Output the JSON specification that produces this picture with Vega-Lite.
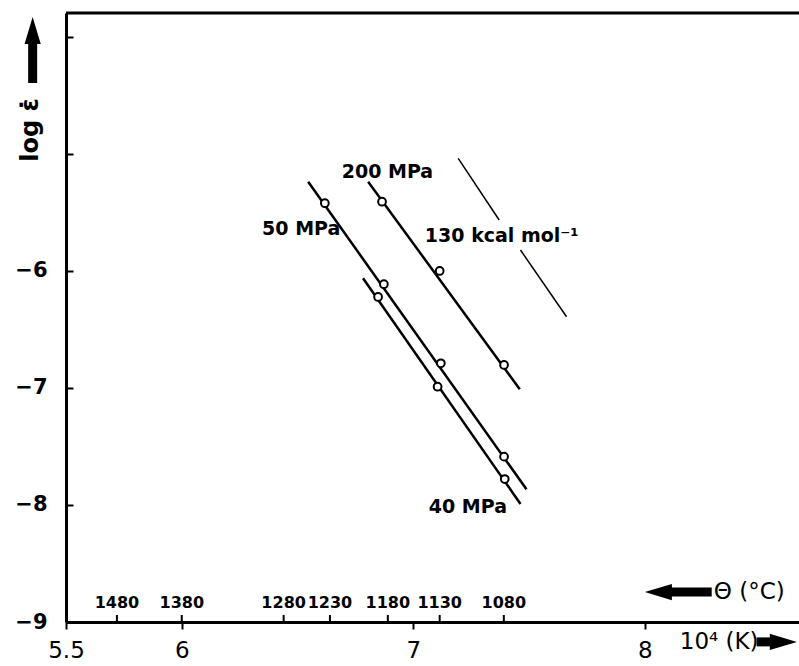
{
  "$schema": "https://vega.github.io/schema/vega-lite/v6.json",
  "width": 733,
  "height": 609,
  "autosize": "none",
  "padding": {"left": 66, "top": 13, "right": 0, "bottom": 44},
  "background": "white",
  "config": {"view": {"stroke": null}, "font": "DejaVu Sans"},
  "datasets": {
    "fits": [
      {"series": "200 MPa", "x": 6.805, "y": -5.237},
      {"series": "200 MPa", "x": 7.460, "y": -7.011},
      {"series": "50 MPa", "x": 6.546, "y": -5.237},
      {"series": "50 MPa", "x": 7.489, "y": -7.866},
      {"series": "40 MPa", "x": 6.783, "y": -6.062},
      {"series": "40 MPa", "x": 7.463, "y": -7.991}
    ],
    "slope": [
      {"part": "a", "x": 7.194, "y": -5.037},
      {"part": "a", "x": 7.371, "y": -5.564},
      {"part": "b", "x": 7.463, "y": -5.821},
      {"part": "b", "x": 7.662, "y": -6.391}
    ],
    "points": [
      {"series": "200 MPa", "x": 6.865, "y": -5.408},
      {"series": "200 MPa", "x": 7.114, "y": -6.0},
      {"series": "200 MPa", "x": 7.392, "y": -6.803},
      {"series": "50 MPa", "x": 6.618, "y": -5.421},
      {"series": "50 MPa", "x": 6.873, "y": -6.113},
      {"series": "50 MPa", "x": 7.119, "y": -6.789},
      {"series": "50 MPa", "x": 7.392, "y": -7.587},
      {"series": "40 MPa", "x": 6.848, "y": -6.222},
      {"series": "40 MPa", "x": 7.105, "y": -6.989},
      {"series": "40 MPa", "x": 7.395, "y": -7.778}
    ],
    "labels": [
      {"text": "200 MPa", "x": 6.691, "y": -5.150},
      {"text": "50 MPa", "x": 6.347, "y": -5.641},
      {"text": "130 kcal mol⁻¹", "x": 7.050, "y": -5.705},
      {"text": "40 MPa", "x": 7.067, "y": -8.013}
    ],
    "celsius": [
      {"t_c": "1480", "x": 5.72},
      {"t_c": "1380", "x": 6.0},
      {"t_c": "1280", "x": 6.44},
      {"t_c": "1230", "x": 6.64},
      {"t_c": "1180", "x": 6.89},
      {"t_c": "1130", "x": 7.114},
      {"t_c": "1080", "x": 7.391}
    ],
    "shafts": [
      {"arrow": "log", "x": 5.356, "y": -4.393, "x2": 5.356, "y2": -4.043},
      {"arrow": "theta", "x": 8.108, "y": -8.744, "x2": 8.289, "y2": -8.744},
      {"arrow": "kelvin", "x": 8.483, "y": -9.17, "x2": 8.548, "y2": -9.17}
    ],
    "heads": [
      {"dir": "up", "x": 5.356, "y": -3.983},
      {"dir": "left", "x": 8.078, "y": -8.744},
      {"dir": "right", "x": 8.579, "y": -9.17}
    ],
    "titles": [
      {"text": "Θ (°C)", "x": 8.298, "y": -8.744},
      {"text": "10⁴ (K)", "x": 8.151, "y": -9.17}
    ],
    "ytitle": [
      {"text": "log ε̇", "x": 5.348, "y": -4.795}
    ]
  },
  "layer": [
    {
      "data": {"name": "fits"},
      "mark": {"type": "line", "color": "black", "strokeWidth": 2.5},
      "encoding": {
        "x": {
          "field": "x", "type": "quantitative", "title": null,
          "scale": {"domain": [5.5, 8.666], "nice": false, "zero": false},
          "axis": {
            "values": [5.5, 6, 7, 8], "format": "~g", "title": null, "grid": false,
            "domainColor": "black", "domainWidth": 3,
            "tickColor": "black", "tickWidth": 2, "tickSize": 7,
            "labelFont": "DejaVu Sans", "labelFontSize": 23, "labelColor": "black",
            "labelPadding": 10, "labelFlush": false, "labelOverlap": false
          }
        },
        "y": {
          "field": "y", "type": "quantitative", "title": null,
          "scale": {"domain": [-9, -3.795], "nice": false, "zero": false},
          "axis": {
            "values": [-9, -8, -7, -6, -5, -4],
            "format": "~g",
            "labelExpr": "datum.value <= -5.5 ? datum.label : ''",
            "title": null, "grid": false,
            "domainColor": "black", "domainWidth": 3,
            "tickColor": "black", "tickWidth": 2, "tickSize": -7,
            "labelFont": "DejaVu Sans", "labelFontWeight": "bold", "labelFontSize": 21,
            "labelColor": "black", "labelPadding": 26
          }
        },
        "detail": {"field": "series", "type": "nominal"}
      }
    },
    {
      "data": {"name": "ytitle"},
      "mark": {"type": "rule", "color": "black", "strokeWidth": 3},
      "encoding": {"y": {"datum": -3.795, "type": "quantitative", "title": null}}
    },
    {
      "data": {"name": "slope"},
      "mark": {"type": "line", "color": "black", "strokeWidth": 1.5},
      "encoding": {
        "x": {"field": "x", "type": "quantitative", "title": null},
        "y": {"field": "y", "type": "quantitative", "title": null},
        "detail": {"field": "part", "type": "nominal"}
      }
    },
    {
      "data": {"name": "points"},
      "mark": {"type": "point", "shape": "circle", "filled": true, "fill": "white", "stroke": "black", "strokeWidth": 2, "size": 60, "opacity": 1},
      "encoding": {
        "x": {"field": "x", "type": "quantitative", "title": null},
        "y": {"field": "y", "type": "quantitative", "title": null}
      }
    },
    {
      "data": {"name": "labels"},
      "mark": {"type": "text", "align": "left", "baseline": "middle", "font": "DejaVu Sans", "fontWeight": "bold", "fontSize": 19, "color": "black"},
      "encoding": {
        "x": {"field": "x", "type": "quantitative", "title": null},
        "y": {"field": "y", "type": "quantitative", "title": null},
        "text": {"field": "text"}
      }
    },
    {
      "data": {"name": "celsius"},
      "mark": {"type": "rule", "color": "black", "strokeWidth": 2},
      "encoding": {
        "x": {"field": "x", "type": "quantitative", "title": null},
        "y": {"datum": -9, "type": "quantitative", "title": null},
        "y2": {"datum": -8.94}
      }
    },
    {
      "data": {"name": "celsius"},
      "mark": {"type": "text", "align": "center", "baseline": "middle", "dy": -19, "font": "DejaVu Sans", "fontWeight": "bold", "fontSize": 16, "color": "black"},
      "encoding": {
        "x": {"field": "x", "type": "quantitative", "title": null},
        "y": {"datum": -9, "type": "quantitative", "title": null},
        "text": {"field": "t_c"}
      }
    },
    {
      "data": {"name": "shafts"},
      "mark": {"type": "rule", "color": "black", "strokeWidth": 9, "strokeCap": "butt"},
      "encoding": {
        "x": {"field": "x", "type": "quantitative", "title": null},
        "y": {"field": "y", "type": "quantitative", "title": null},
        "x2": {"field": "x2"},
        "y2": {"field": "y2"}
      }
    },
    {
      "data": {"name": "heads"},
      "mark": {"type": "point", "filled": true, "color": "black", "opacity": 1, "size": 1300, "strokeWidth": 0},
      "encoding": {
        "x": {"field": "x", "type": "quantitative", "title": null},
        "y": {"field": "y", "type": "quantitative", "title": null},
        "shape": {
          "field": "dir", "type": "nominal", "legend": null,
          "scale": {
            "domain": ["up", "left", "right"],
            "range": ["M0,-1L0.45,0.5L-0.45,0.5Z", "M-1,0L0.5,-0.45L0.5,0.45Z", "M1,0L-0.5,-0.45L-0.5,0.45Z"]
          }
        }
      }
    },
    {
      "data": {"name": "titles"},
      "mark": {"type": "text", "align": "left", "baseline": "middle", "font": "DejaVu Sans", "fontSize": 23, "color": "black"},
      "encoding": {
        "x": {"field": "x", "type": "quantitative", "title": null},
        "y": {"field": "y", "type": "quantitative", "title": null},
        "text": {"field": "text"}
      }
    },
    {
      "data": {"name": "ytitle"},
      "mark": {"type": "text", "align": "center", "baseline": "middle", "angle": 270, "font": "DejaVu Sans", "fontWeight": "bold", "fontSize": 24, "color": "black"},
      "encoding": {
        "x": {"field": "x", "type": "quantitative", "title": null},
        "y": {"field": "y", "type": "quantitative", "title": null},
        "text": {"field": "text"}
      }
    }
  ]
}
